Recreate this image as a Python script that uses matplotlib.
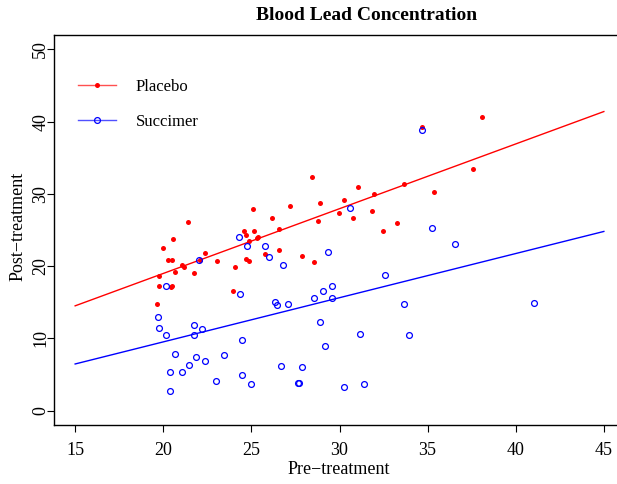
import matplotlib
matplotlib.use("Agg")
import matplotlib.pyplot as plt
from matplotlib.lines import Line2D

plt.rcParams['font.family'] = ['Liberation Serif', 'DejaVu Serif']

# Placebo group: pre-treatment vs post-treatment blood lead
placebo_pre = [19.65, 19.76, 19.78, 19.97, 20.27, 20.50, 20.57, 20.50, 20.43, 20.67,
               21.05, 21.20, 21.39, 21.77, 22.37, 23.07, 23.98, 24.07, 24.57, 24.68,
               24.88, 25.17, 25.38, 25.30, 24.68, 24.88, 25.08, 25.78, 26.17, 26.59,
               26.57, 27.18, 27.87, 28.57, 28.46, 28.88, 28.78, 29.97, 30.27, 30.77,
               31.07, 31.86, 31.98, 32.47, 33.26, 33.68, 34.68, 35.34, 37.55, 38.07,
               22.07]
placebo_post = [14.7, 18.7, 17.3, 22.5, 20.9, 20.9, 23.7, 17.3, 17.1, 19.2,
                20.1, 19.9, 26.1, 19.1, 21.8, 20.7, 16.5, 19.9, 24.8, 24.3,
                23.45, 24.9, 24.1, 23.9, 21.0, 20.7, 27.9, 21.7, 26.6, 25.07,
                22.3, 28.3, 21.4, 20.6, 32.4, 28.7, 26.2, 27.4, 29.2, 26.7,
                31.0, 27.7, 30.0, 24.9, 26.0, 31.4, 39.3, 30.2, 33.5, 40.6,
                20.9]

# Succimer group
succimer_pre = [24.28, 24.77, 25.78, 25.98, 26.78, 22.05, 20.18, 24.37, 26.36, 26.47,
                27.08, 19.69, 19.78, 20.18, 21.77, 22.18, 21.77, 24.49, 20.67, 21.88,
                22.39, 23.47, 21.48, 21.09, 20.39, 26.67, 22.98, 24.49, 24.98, 27.67,
                20.39, 34.68, 30.58, 35.26, 36.55, 29.37, 32.56, 29.58, 29.07, 28.57,
                29.58, 33.68, 41.05, 28.88, 31.16, 33.96, 29.17, 27.87, 27.69, 30.27,
                31.37]
succimer_post = [24.1, 22.85, 22.8, 21.2, 20.2, 20.9, 17.3, 16.2, 15.1, 14.6,
                 14.7, 13.0, 11.4, 10.4, 11.8, 11.3, 10.4, 9.8, 7.9, 7.4,
                 6.9, 7.75, 6.3, 5.4, 5.3, 6.2, 4.1, 4.9, 3.7, 3.8,
                 2.7, 38.8, 28.0, 25.3, 23.1, 21.9, 18.8, 17.3, 16.6, 15.6,
                 15.6, 14.7, 14.9, 12.3, 10.6, 10.5, 9.0, 6.1, 3.8, 3.3,
                 3.7]

# Fitted lines
fit_x = [15, 45]
placebo_fit = [14.5, 41.4]
succimer_fit = [6.45, 24.8]

xticks = [15, 20, 25, 30, 35, 40, 45]
yticks = [0, 10, 20, 30, 40, 50]

W, H = 617, 484
fig = plt.figure(figsize=(W / 100, H / 100), dpi=100)
ax = fig.add_axes([54 / W, (H - 425) / H, (625 - 54) / W, (425 - 35) / H])

ax.plot(fit_x, placebo_fit, color='red', lw=1.0, zorder=2)
ax.plot(fit_x, succimer_fit, color='blue', lw=1.0, zorder=2)
ax.plot(placebo_pre, placebo_post, 'o', color='red', ms=3.6, mew=0, zorder=3)
ax.plot(succimer_pre, succimer_post, 'o', mfc='none', mec='blue', ms=4.2, mew=0.9, zorder=3)

ax.set_xlim(13.8, 46.2)
ax.set_ylim(-2, 52)
ax.set_xticks(xticks)
ax.set_yticks(yticks)
ax.set_xticklabels([str(t) for t in xticks], fontsize=13)
ax.set_yticklabels([str(t) for t in yticks], fontsize=13, rotation=90, va='center')
ax.tick_params(axis='both', direction='out', length=5, width=0.8, color='black')
ax.tick_params(axis='x', pad=7)
ax.tick_params(axis='y', pad=-1.5)
for s in ax.spines.values():
    s.set_linewidth(1.0)

fig.text(339 / W, 1 - 470 / H, 'Pre\u2212treatment', ha='center', va='center', fontsize=13)
fig.text(18 / W, 1 - 226 / H, 'Post\u2212treatment', ha='center', va='center', fontsize=13, rotation=90)
fig.text(367 / W, 1 - 15 / H, 'Blood Lead Concentration', ha='center', va='center',
         fontsize=14, fontweight='bold')

handles = [
    Line2D([], [], color='#ff5050', lw=1.0, marker='o', ms=3.6, mew=0, mfc='red'),
    Line2D([], [], color='#5050ff', lw=1.0, marker='o', ms=4.2, mfc='none', mec='blue', mew=0.9),
]
leg = ax.legend(handles, ['Placebo', 'Succimer'], loc='upper left',
                bbox_to_anchor=(78 / W, 1 - 79 / H), bbox_transform=fig.transFigure,
                frameon=False, fontsize=12, handlelength=2.3, handletextpad=1.15,
                labelspacing=1.15, borderpad=0, borderaxespad=0)

fig.savefig('out.png', dpi=100)
